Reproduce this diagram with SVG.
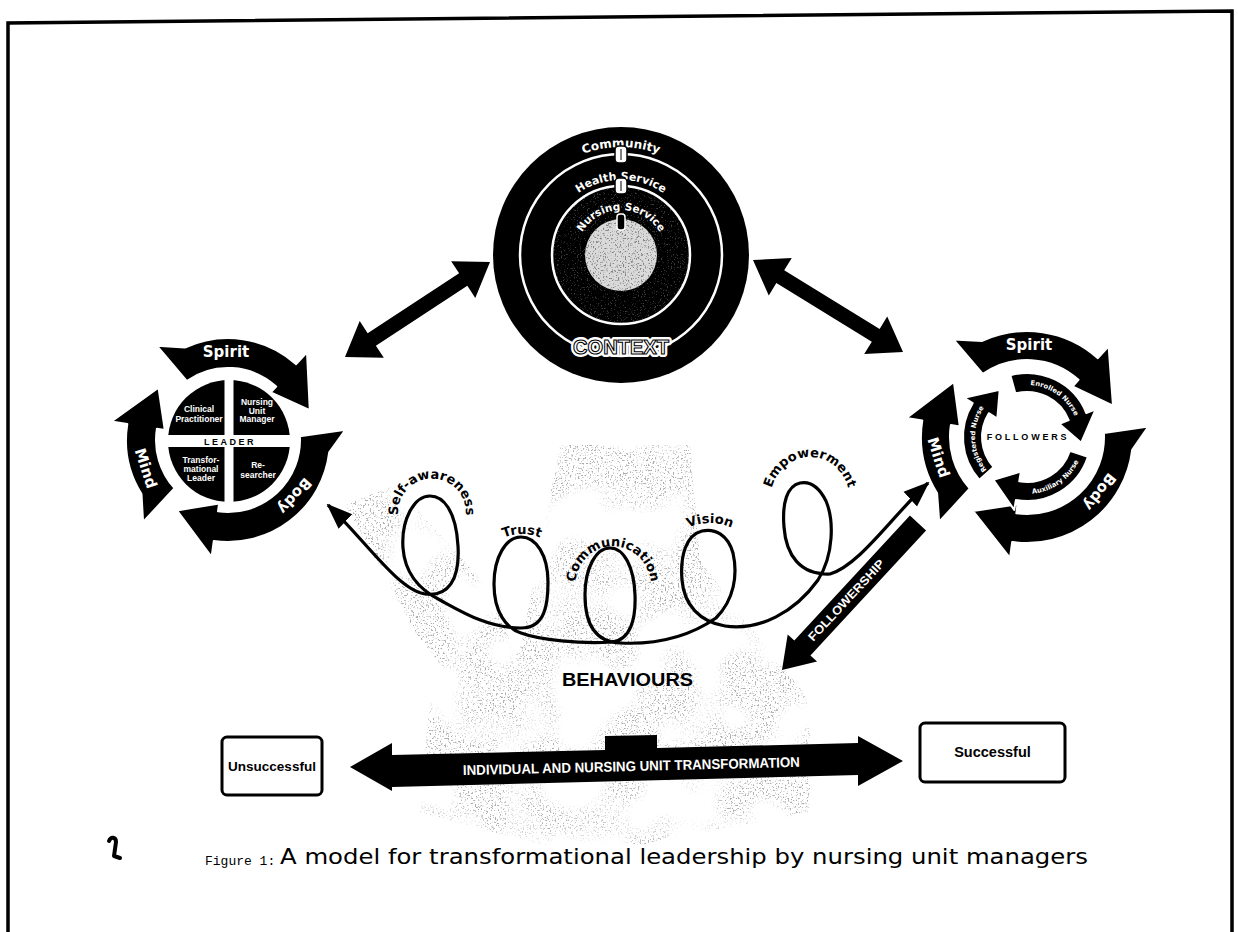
<svg xmlns="http://www.w3.org/2000/svg" width="1238" height="932" viewBox="0 0 1238 932">
<defs>
<style>
.sans{font-family:"DejaVu Sans","Liberation Sans",sans-serif}
.arial{font-family:"Liberation Sans",Arial,sans-serif}
.wb{fill:#fff;font-weight:bold}
.ring{fill:#000;stroke:#fff;stroke-width:2;stroke-linejoin:round}
.loop{fill:#000;font-size:13px;font-weight:bold}
.qt{font-family:"Liberation Sans",Arial,sans-serif;font-size:8.5px;font-weight:bold;fill:#fff;text-anchor:middle}
.rt{font-family:"DejaVu Sans",sans-serif;font-size:15px;font-weight:bold;fill:#fff;text-anchor:middle}
.it{font-family:"DejaVu Sans",sans-serif;font-size:6.8px;font-weight:bold;fill:#fff}
.box{fill:#fff;stroke:#000;stroke-width:3}
</style>
<filter id="spk" color-interpolation-filters="sRGB">
<feTurbulence type="fractalNoise" baseFrequency="0.6" numOctaves="2" seed="4" result="t"/>
<feTurbulence type="fractalNoise" baseFrequency="0.018" numOctaves="2" seed="11" result="lf"/>
<feColorMatrix in="t" type="matrix" values="0 0 0 0 0.3  0 0 0 0 0.3  0 0 0 0 0.3  7 0 0 0 -3.95" result="d"/>
<feColorMatrix in="lf" type="matrix" values="0 0 0 0 0  0 0 0 0 0  0 0 0 0 0  5 0 0 0 -2.0" result="m"/>
<feComposite in="d" in2="m" operator="in" result="dm"/>
<feComposite in="dm" in2="SourceAlpha" operator="in"/>
</filter>
<filter id="spkD" color-interpolation-filters="sRGB">
<feTurbulence type="fractalNoise" baseFrequency="0.6" numOctaves="2" seed="4" result="t"/>
<feColorMatrix in="t" type="matrix" values="0 0 0 0 0.3  0 0 0 0 0.3  0 0 0 0 0.3  7 0 0 0 -3.9" result="d"/>
<feComposite in="d" in2="SourceAlpha" operator="in"/>
</filter>
<filter id="spkL" color-interpolation-filters="sRGB">
<feTurbulence type="fractalNoise" baseFrequency="0.7" numOctaves="2" seed="9" result="t"/>
<feColorMatrix in="t" type="matrix" values="0 0 0 0 0.7  0 0 0 0 0.7  0 0 0 0 0.7  7 0 0 0 -4.2" result="d"/>
<feComposite in="d" in2="SourceAlpha" operator="in"/>
</filter>
<marker id="ah" markerUnits="userSpaceOnUse" markerWidth="26" markerHeight="22" viewBox="0 0 26 22" refX="24" refY="11" orient="auto-start-reverse">
<path d="M0,1 L26,11 L0,21 Z" fill="#000"/>
</marker>
<path id="pSA" d="M 400.1 524.4 A 34 34 0 1 1 463.9 524.4"/>
<path id="pTr" d="M 490 547 A 46 46 0 0 1 554 547"/>
<path id="pCo" d="M 575 586.4 A 38 40 0 1 1 651 586.4"/>
<path id="pVi" d="M 670 541.8 A 52 52 0 0 1 750 541.8"/>
<path id="pEm" d="M 772.4 516 A 40 44 0 1 1 847.6 516"/>
<path id="pCom" d="M 538.3 185.6 A 108 108 0 0 1 703.7 185.6"/>
<path id="pHS" d="M 556 217.5 A 75 75 0 0 1 686 217.5"/>
<path id="pNS" d="M 576.7 247.2 A 45 45 0 0 1 665.3 247.2"/>
<path id="pEn" d="M 1018.0 385.8 A 52 52 0 0 1 1078.2 428.0"/>
<path id="pAu" d="M 1007.5 490.6 A 57 57 0 0 0 1084 437"/>
<path id="pRe" d="M 993.6 476.8 A 52 52 0 0 1 990.2 400.2"/>
</defs>

<rect width="1238" height="932" fill="#fff"/>

<g id="stipple" opacity="0.45" filter="url(#spk)">
<polygon points="345,505 395,485 500,600 520,690 470,700 420,640" fill="#000"/>
<polygon points="560,445 690,445 700,560 760,640 810,700 810,812 640,845 540,845 420,812 430,700 520,650" fill="#000"/>
</g>

<path id="frame" d="M 8 932 L 8 23 L 1232 11 L 1232 932" fill="none" stroke="#000" stroke-width="3.5"/>

<g id="context">
<circle cx="621" cy="255" r="128" fill="#000"/>
<path d="M 621 186 A 69 69 0 1 1 620.9 186 Z M 621 219 A 36 36 0 1 0 621.1 219 Z" fill="#000" opacity="0.35" filter="url(#spkL)"/>
<circle cx="621" cy="255" r="101" fill="none" stroke="#fff" stroke-width="2.5"/>
<circle cx="621" cy="255" r="69" fill="none" stroke="#fff" stroke-width="2.5"/>
<circle cx="621" cy="255" r="36" fill="#dadada"/>
<circle cx="621" cy="255" r="36" fill="#000" opacity="0.6" filter="url(#spkD)"/>
<text class="sans wb" font-size="12" text-anchor="middle"><textPath href="#pCom" startOffset="50%">Community</textPath></text>
<text class="sans wb" font-size="11" text-anchor="middle"><textPath href="#pHS" startOffset="50%">Health Service</textPath></text>
<text class="sans wb" font-size="10.5" text-anchor="middle"><textPath href="#pNS" startOffset="50%">Nursing Service</textPath></text>
<rect x="615" y="146" width="12" height="17" rx="4" fill="#fff" stroke="#000" stroke-width="1.5"/>
<line x1="621" y1="149" x2="621" y2="160" stroke="#000" stroke-width="1"/>
<rect x="615" y="178" width="12" height="16" rx="4" fill="#fff" stroke="#000" stroke-width="1.5"/>
<line x1="621" y1="181" x2="621" y2="191" stroke="#000" stroke-width="1"/>
<rect x="617" y="214" width="8" height="16" rx="3" fill="#000" stroke="#fff" stroke-width="1.5"/>
<text x="621" y="354" class="arial" font-size="21" font-weight="bold" text-anchor="middle" textLength="96" lengthAdjust="spacingAndGlyphs" fill="#fff" stroke="#fff" stroke-width="6" stroke-linejoin="round">CONTEXT</text>
<text x="621" y="354" class="arial" font-size="21" font-weight="bold" text-anchor="middle" textLength="96" lengthAdjust="spacingAndGlyphs" fill="#fff" stroke="#000" stroke-width="1.1">CONTEXT</text>
</g>

<g id="leader">
<path class="ring" d="M 157.0 345.8 L 184.9 347.6 A 102 102 0 0 1 296.2 364.2 L 307.0 352.3 L 309.8 410.2 L 270.8 392.4 L 276.2 386.5 A 72 72 0 0 0 186.7 381.0 Z"/>
<path class="ring" d="M 345.6 429.7 L 329.2 452.4 A 102 102 0 0 1 213.8 541.0 L 211.6 556.9 L 176.9 510.4 L 219.1 503.4 L 218.0 511.3 A 72 72 0 0 0 299.9 436.2 Z"/>
<path class="ring" d="M 143.1 522.0 L 141.5 494.0 A 102 102 0 0 1 127.3 424.0 L 111.5 421.5 L 158.5 387.6 L 164.8 430.0 L 156.9 428.7 A 72 72 0 0 0 174.5 488.2 Z"/>
<text class="rt" x="226" y="357">Spirit</text>
<text class="rt" transform="translate(145.7 468.3) rotate(72)" y="5">Mind</text>
<text class="rt" transform="translate(294.6 495.9) rotate(132)" y="5">Body</text>
<circle cx="229" cy="441" r="61" fill="#000"/>
<rect x="224.5" y="378" width="9" height="126" fill="#fff"/>
<rect x="166" y="435" width="126" height="12" fill="#fff"/>
<text class="qt" x="199" y="412">Clinical</text>
<text class="qt" x="199" y="422">Practitioner</text>
<text class="qt" x="257" y="405">Nursing</text>
<text class="qt" x="257" y="413.5">Unit</text>
<text class="qt" x="257" y="422">Manager</text>
<text class="qt" x="201" y="463">Transfor-</text>
<text class="qt" x="201" y="472">mational</text>
<text class="qt" x="201" y="481">Leader</text>
<text class="qt" x="258" y="468">Re-</text>
<text class="qt" x="258" y="478">searcher</text>
<text class="arial" x="230" y="444.5" font-size="9" font-weight="bold" letter-spacing="2.5" text-anchor="middle" fill="#000">LEADER</text>
</g>

<g id="followers">
<path class="ring" d="M 953.6 339.6 L 982.2 340.9 A 106 106 0 0 1 1097.9 358.2 L 1108.6 346.3 L 1113.0 405.7 L 1072.5 386.5 L 1078.5 379.8 A 77 77 0 0 0 982.8 373.9 Z"/>
<path class="ring" d="M 1148.5 426.4 L 1132.2 449.9 A 106 106 0 0 1 1012.2 542.0 L 1010.0 557.8 L 973.2 511.0 L 1017.5 504.3 L 1016.3 513.3 A 77 77 0 0 0 1103.9 433.0 Z"/>
<path class="ring" d="M 939.2 521.8 L 937.1 493.2 A 106 106 0 0 1 922.3 420.4 L 906.5 417.9 L 953.9 381.9 L 959.8 426.4 L 950.9 425.0 A 77 77 0 0 0 969.8 488.5 Z"/>
<text class="rt" x="1029" y="350">Spirit</text>
<text class="rt" transform="translate(938.3 457.5) rotate(72)" y="5">Mind</text>
<text class="rt" transform="translate(1099.7 491.8) rotate(128)" y="5">Body</text>
<path class="ring" d="M 1010.4 375.2 A 64 64 0 0 1 1086.3 413.0 L 1095.6 409.3 L 1081.2 442.7 L 1059.5 423.9 L 1068.7 420.1 A 45 45 0 0 0 1015.4 393.5 Z"/>
<path class="ring" d="M 1087.9 456.8 A 64 64 0 0 1 1015.9 500.0 L 1014.2 509.9 L 993.4 479.9 L 1020.9 471.5 L 1019.2 481.3 A 45 45 0 0 0 1069.8 450.9 Z"/>
<path class="ring" d="M 979.4 479.8 A 64 64 0 0 1 972.7 403.1 L 964.2 397.8 L 999.7 389.8 L 997.3 418.5 L 988.8 413.2 A 45 45 0 0 0 993.6 467.1 Z"/>
<text class="it" text-anchor="middle"><textPath href="#pEn" startOffset="50%">Enrolled Nurse</textPath></text>
<text class="it" text-anchor="middle"><textPath href="#pAu" startOffset="50%">Auxiliary Nurse</textPath></text>
<text class="it" text-anchor="middle"><textPath href="#pRe" startOffset="50%">Registered Nurse</textPath></text>
<text class="arial" x="1028" y="440" font-size="9" font-weight="bold" letter-spacing="2.8" text-anchor="middle" fill="#000">FOLLOWERS</text>
</g>

<g id="connectors">
<polygon id="arrow-leader-context" points="345,357 383.83,357.87 375.88,345.74 467.34,285.82 475.29,297.95 490,262 451.17,261.13 459.12,273.26 367.66,333.18 359.71,321.05" fill="#000"/>
<polygon id="arrow-context-followers" points="753,260 768.78,295.48 776.36,283.12 871.80,341.66 864.22,354.02 903,352 887.22,316.52 879.64,328.88 784.20,270.34 791.78,257.98" fill="#000"/>
<path id="behaviours-curve" d="M 328 505 C 365 540 398 590 425 594 C 448 597 460 580 458 546 C 456 510 443 496 430 496 C 414 496 401 520 403 548 C 405 575 420 590 440 600 C 462 612 488 628 521 628 C 545 628 548 605 548 582 C 548 555 536 537 521 537 C 506 537 494 557 494 584 C 494 612 506 628 521 633 C 540 640 580 644 612 642 C 630 640 636 620 635 595 C 634 567 624 548 610 548 C 596 548 585 568 585 595 C 585 625 596 642 620 643 C 660 645 690 636 716 618 C 734 600 738 575 733 553 C 728 535 715 528 702 531 C 686 535 680 556 682 580 C 684 605 700 622 725 626 C 760 631 795 612 818 580 C 834 555 834 520 826 501 C 819 487 810 481 800 483 C 787 486 782 503 784 527 C 786 555 800 575 830 574 C 860 565 893 515 928 483" fill="none" stroke="#000" stroke-width="3.2" marker-start="url(#ah)" marker-end="url(#ah)"/>
<text class="sans loop" text-anchor="middle"><textPath href="#pSA" startOffset="50%">Self-awareness</textPath></text>
<text class="sans loop" text-anchor="middle"><textPath href="#pTr" startOffset="50%">Trust</textPath></text>
<text class="sans loop" text-anchor="middle"><textPath href="#pCo" startOffset="50%">Communication</textPath></text>
<text class="sans loop" text-anchor="middle"><textPath href="#pVi" startOffset="50%">Vision</textPath></text>
<text class="sans loop" text-anchor="middle"><textPath href="#pEm" startOffset="50%">Empowerment</textPath></text>
<text x="627.5" y="686" class="arial" font-size="19" font-weight="bold" text-anchor="middle" textLength="131" lengthAdjust="spacingAndGlyphs" fill="#000">BEHAVIOURS</text>
<g id="followership">
<polygon points="909.93,515.53 926.07,530.47 810.44,655.45 817.05,661.56 782,670 787.69,634.40 794.30,640.51" fill="#000"/>
<text class="arial" transform="translate(846 600) rotate(-47.2)" y="4.5" font-size="12" font-weight="bold" text-anchor="middle" textLength="106" lengthAdjust="spacingAndGlyphs" fill="#fff">FOLLOWERSHIP</text>
</g>
<g id="transformation">
<polygon points="350,767 392,743 392,755 605,750 605,736 657,735 657,748 858,743 858,736 903,761 858,786 858,775 392,787 392,791" fill="#000"/>
<text class="arial" transform="translate(631.5 771) rotate(-1.4)" font-size="14" font-weight="bold" text-anchor="middle" textLength="337" lengthAdjust="spacingAndGlyphs" fill="#fff">INDIVIDUAL AND NURSING UNIT TRANSFORMATION</text>
</g>
</g>

<g id="unsuccessful">
<rect class="box" x="222" y="737" width="100" height="58" rx="5"/>
<text x="272" y="771" class="arial" font-size="13.5" font-weight="bold" text-anchor="middle" fill="#000">Unsuccessful</text>
</g>

<g id="successful">
<rect class="box" x="920" y="723" width="145" height="59" rx="5"/>
<text x="992.5" y="757" class="arial" font-size="14.5" font-weight="bold" text-anchor="middle" fill="#000">Successful</text>
</g>

<g id="caption">
<path d="M 109 841 C 111 836 116 837 116 842 L 114 856 L 120 858" fill="none" stroke="#000" stroke-width="4" stroke-linecap="round" stroke-linejoin="round"/>
<text x="205" y="865" font-family="'Liberation Mono',monospace" font-size="13" fill="#000">Figure 1:</text>
<text x="280" y="864" class="sans" font-size="21" textLength="808" lengthAdjust="spacingAndGlyphs" fill="#000">A model for transformational leadership by nursing unit managers</text>
</g>
</svg>
